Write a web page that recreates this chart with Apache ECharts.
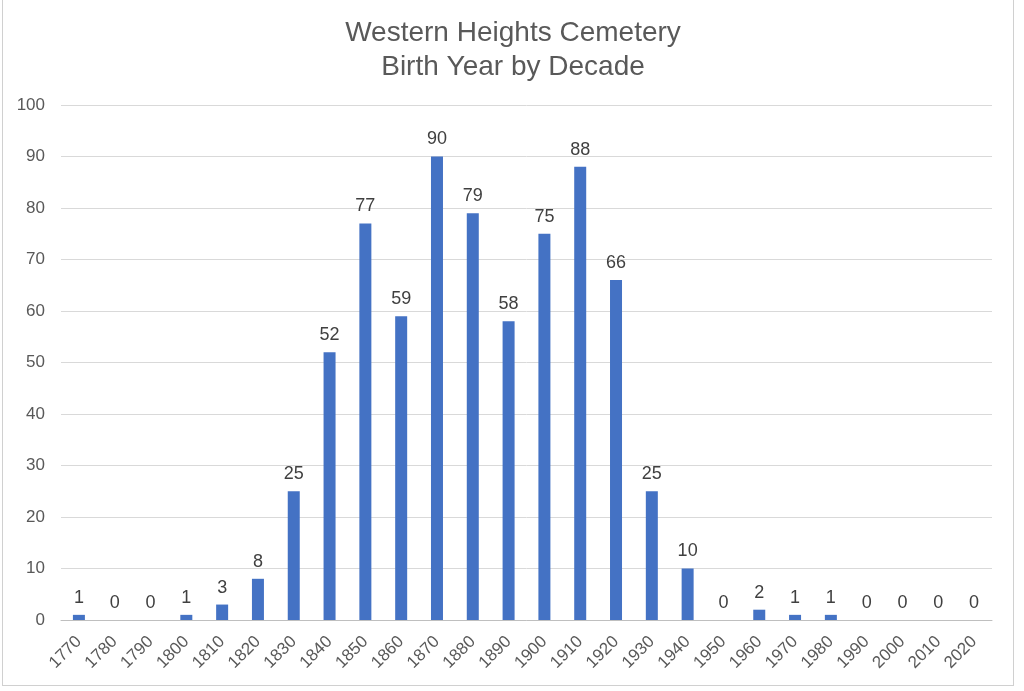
<!DOCTYPE html>
<html>
<head>
<meta charset="utf-8">
<script src="https://cdn.jsdelivr.net/npm/echarts@6/dist/echarts.min.js"></script>
<style>
  html, body { margin: 0; padding: 0; background: #fff; }
  #frame { position: absolute; left: 2px; top: -2px; width: 1012px; height: 688px; border: 1px solid #d0d0d0; box-sizing: border-box; }
  #chart { width: 1024px; height: 691px; }
</style>
</head>
<body>
<div id="frame"></div>
<div id="chart"></div>
<script>
var decades = ['1770', '1780', '1790', '1800', '1810', '1820', '1830', '1840', '1850', '1860',
    '1870', '1880', '1890', '1900', '1910', '1920', '1930', '1940', '1950', '1960',
    '1970', '1980', '1990', '2000', '2010', '2020'];
var births = [1, 0, 0, 1, 3, 8, 25, 52, 77, 59, 90, 79, 58, 75, 88, 66, 25, 10, 0, 2, 1, 1, 0, 0, 0, 0];

var chart = echarts.init(document.getElementById('chart'));
var option = {
    animation: false,
    title: {
        text: 'Western Heights Cemetery\nBirth Year by Decade',
        left: 508,
        textAlign: 'center',
        top: 11,
        textStyle: {
            color: '#595959',
            fontSize: 28,
            fontWeight: 'normal',
            fontFamily: 'Liberation Sans',
            lineHeight: 34
        }
    },
    grid: {
        left: 61,
        right: 32,
        top: 105,
        bottom: 71
    },
    xAxis: {
        type: 'category',
        data: decades,
        axisTick: { show: false },
        axisLine: { lineStyle: { color: '#bfbfbf', width: 1 } },
        axisLabel: {
            interval: 0,
            rotate: 45,
            color: '#595959',
            fontSize: 17,
            fontFamily: 'Liberation Sans',
            margin: 19
        }
    },
    yAxis: {
        type: 'value',
        min: 0,
        max: 100,
        interval: 10,
        axisLine: { show: false },
        axisTick: { show: false },
        axisLabel: {
            color: '#595959',
            fontSize: 17,
            fontFamily: 'Liberation Sans',
            margin: 16
        },
        splitLine: { lineStyle: { color: '#d9d9d9', width: 1 } }
    },
    series: [{
        type: 'bar',
        data: births,
        barWidth: 12,
        itemStyle: { color: '#4472c4' },
        label: {
            show: true,
            position: 'top',
            distance: 8,
            color: '#404040',
            fontSize: 18,
            fontFamily: 'Liberation Sans'
        }
    }]
};
chart.setOption(option);
</script>
</body>
</html>
